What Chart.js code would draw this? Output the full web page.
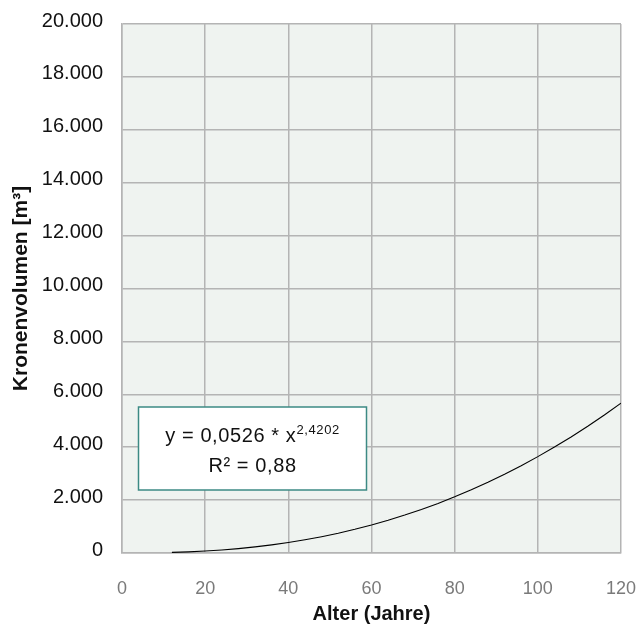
<!DOCTYPE html>
<html>
<head>
<meta charset="utf-8">
<script src="https://cdn.jsdelivr.net/npm/chart.js@4/dist/chart.umd.min.js"></script>
<style>
  html, body { margin: 0; padding: 0; background: #ffffff; }
  #wrap { width: 638px; height: 626px; }
</style>
</head>
<body>
<div id="wrap"><canvas id="c" width="638" height="626"></canvas></div>
<script>
// Crown volume over tree age (power-law trend line)
const ages = [12, 16, 20, 24, 28, 32, 36, 40, 44, 48, 52, 56, 60, 64, 68, 72, 76, 80, 84, 88, 92, 96, 100, 104, 108, 112, 116, 120];
const crownVolume = [22, 43, 74, 115, 167, 231, 307, 397, 500, 617, 748, 895, 1058, 1237, 1433, 1645, 1875, 2123, 2389, 2673, 2977, 3300, 3644, 4007, 4389, 4793, 5218, 5665];
const xTickValues = [0, 20, 40, 60, 80, 100, 120];
const yTickValues = [0, 2000, 4000, 6000, 8000, 10000, 12000, 14000, 16000, 18000, 20000];
const equationMain = 'y = 0,0526 * x';
const equationExp = '2,4202';
const rSquared = 'R² = 0,88';

const FONT = '"Liberation Sans", Arial, Helvetica, sans-serif';
const fmtThousands = v => String(v).replace(/\B(?=(\d{3})+(?!\d))/g, '.');

// plot background
const plotBackground = {
  id: 'plotBackground',
  beforeDraw(chart) {
    const { ctx, chartArea: a } = chart;
    ctx.save();
    ctx.fillStyle = '#eff3f0';
    ctx.fillRect(a.left, a.top, a.right - a.left, a.bottom - a.top);
    ctx.restore();
  }
};

// regression equation box
const equationBox = {
  id: 'equationBox',
  afterDraw(chart) {
    const { ctx, chartArea: a } = chart;
    const x0 = a.left + 16.5, y0 = a.top + 383, w = 228, h = 83;
    ctx.save();
    ctx.fillStyle = '#ffffff';
    ctx.fillRect(x0, y0, w, h);
    ctx.strokeStyle = '#3c8a84';
    ctx.lineWidth = 1.5;
    ctx.strokeRect(x0, y0, w, h);

    const cx = x0 + w / 2;
    ctx.fillStyle = '#111111';
    ctx.textBaseline = 'alphabetic';
    ctx.letterSpacing = '0.6px';
    ctx.font = '20px ' + FONT;
    const mainW = ctx.measureText(equationMain).width;
    ctx.font = '13px ' + FONT;
    const expW = ctx.measureText(equationExp).width;
    const startX = cx - (mainW + expW) / 2;
    const base1 = y0 + 34.5;
    ctx.textAlign = 'left';
    ctx.font = '20px ' + FONT;
    ctx.fillText(equationMain, startX, base1);
    ctx.font = '13px ' + FONT;
    ctx.fillText(equationExp, startX + mainW, base1 - 8);

    ctx.font = '20px ' + FONT;
    ctx.textAlign = 'center';
    ctx.fillText(rSquared, cx, y0 + 64.5);
    ctx.restore();
  }
};

new Chart(document.getElementById('c'), {
  type: 'line',
  data: {
    datasets: [{
      data: ages.map((a, i) => ({ x: a, y: crownVolume[i] })),
      borderColor: '#000000',
      borderWidth: 1.1,
      pointRadius: 0,
      tension: 0,
      fill: false
    }]
  },
  options: {
    responsive: false,
    animation: false,
    layout: { padding: { top: 24, right: 17, left: 0, bottom: 0 } },
    plugins: {
      legend: { display: false },
      tooltip: { enabled: false }
    },
    scales: {
      x: {
        type: 'linear',
        min: 0,
        max: 120,
        afterBuildTicks: s => { s.ticks = xTickValues.map(v => ({ value: v })); },
        afterFit: s => { s.height = 73; s.paddingLeft = 0; s.paddingRight = 0; },
        grid: { color: '#b4b4b4', lineWidth: 1.5, drawTicks: false },
        border: { color: '#b4b4b4', width: 1.5 },
        ticks: {
          color: '#7a7a7a',
          font: { family: FONT, size: 18 },
          padding: 25,
          maxRotation: 0
        },
        title: {
          display: true,
          text: 'Alter (Jahre)',
          color: '#111111',
          font: { family: FONT, size: 20, weight: 'bold' },
          padding: { top: 0, bottom: 0 }
        }
      },
      y: {
        type: 'linear',
        min: 0,
        max: 20000,
        afterBuildTicks: s => { s.ticks = yTickValues.map(v => ({ value: v })); },
        afterFit: s => { s.width = 122; s.paddingTop = 0; s.paddingBottom = 0; },
        grid: { color: '#b4b4b4', lineWidth: 1.5, drawTicks: false },
        border: { color: '#b4b4b4', width: 1.5 },
        ticks: {
          color: '#111111',
          font: { family: FONT, size: 20 },
          padding: 19,
          labelOffset: -3,
          callback: v => fmtThousands(v)
        },
        title: {
          display: true,
          text: 'Kronenvolumen [m³]',
          color: '#111111',
          font: { family: FONT, size: 21, weight: 'bold' },
          padding: { top: 9, bottom: 0 }
        }
      }
    }
  },
  plugins: [plotBackground, equationBox]
});
</script>
</body>
</html>
